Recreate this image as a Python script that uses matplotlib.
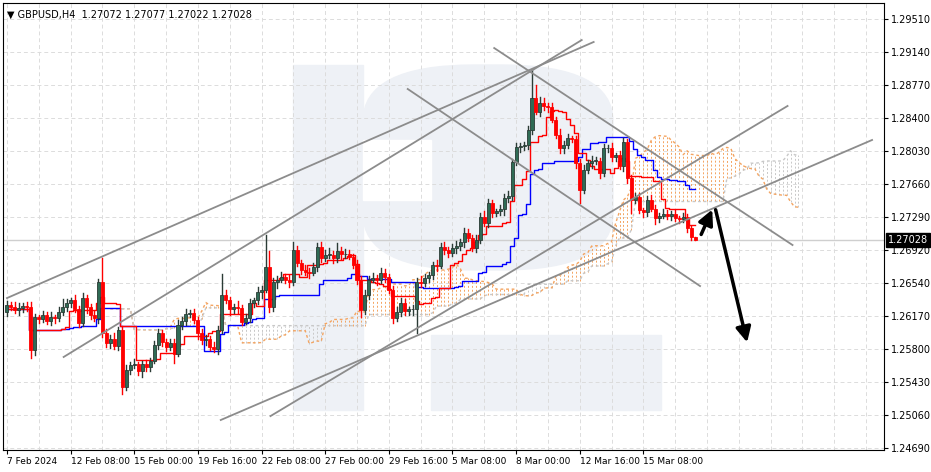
import numpy as np
import pandas as pd
import matplotlib
matplotlib.use("Agg")
import matplotlib.pyplot as plt
from matplotlib.patches import Rectangle, FancyBboxPatch

# closes in pips above 1.2000
closes_p = [630, 628, 624, 626, 629, 628, 579, 616, 614, 618,
            612, 616, 615, 622, 628, 632, 635, 625, 610, 638,
            627, 618, 615, 655, 598, 587, 592, 584, 602, 538,
            557, 562, 563, 555, 563, 560, 567, 585, 598, 588,
            583, 587, 575, 607, 612, 620, 621, 613, 598, 590,
            592, 583, 580, 602, 641, 635, 625, 628, 626, 611,
            615, 632, 635, 644, 647, 672, 627, 655, 658, 661,
            658, 655, 692, 677, 669, 667, 666, 672, 695, 683,
            686, 686, 682, 690, 687, 687, 684, 675, 658, 624,
            641, 658, 660, 658, 666, 661, 647, 615, 622, 632,
            623, 625, 625, 656, 654, 660, 663, 675, 674, 695,
            692, 688, 694, 696, 700, 711, 705, 694, 703, 729,
            722, 744, 733, 735, 737, 750, 752, 790, 807, 808,
            810, 826, 862, 847, 857, 853, 852, 838, 821, 806,
            810, 817, 816, 789, 759, 781, 789, 792, 792, 778,
            806, 806, 796, 798, 786, 813, 772, 748, 751, 736,
            734, 748, 738, 727, 730, 732, 730, 732, 727, 726,
            729, 716, 706, 702.8]
upper_wick = [4, 3, 5, 6, 3, 4, 5, 4, 3, 5,
              4, 6, 3, 5, 8, 4, 3, 6, 4, 5,
              3, 4, 5, 4, 28, 5, 4, 6, 3, 4,
              5, 4, 6, 3, 4, 5, 3, 4, 5, 4,
              3, 5, 4, 6, 4, 5, 3, 4, 3, 5,
              4, 3, 5, 4, 24, 5, 4, 3, 6, 4,
              5, 4, 3, 6, 4, 36, 18, 5, 4, 6,
              4, 5, 8, 4, 3, 6, 4, 5, 4, 6,
              5, 8, 4, 9, 5, 6, 4, 3, 5, 4,
              5, 4, 6, 3, 5, 4, 3, 4, 5, 6,
              4, 3, 5, 4, 6, 5, 4, 3, 5, 4,
              5, 3, 4, 6, 4, 5, 4, 3, 5, 4,
              6, 5, 4, 3, 5, 4, 6, 4, 5, 4,
              3, 5, 32, 15, 6, 5, 4, 5, 3, 6,
              4, 5, 3, 4, 5, 6, 4, 5, 4, 3,
              5, 4, 6, 3, 5, 4, 3, 4, 5, 4,
              3, 4, 5, 4, 3, 5, 4, 3, 4, 3,
              4, 3, 2, 0.5]
lower_wick = [5, 4, 3, 6, 4, 5, 9, 5, 4, 3,
              4, 5, 6, 3, 4, 5, 4, 3, 5, 4,
              6, 4, 3, 5, 4, 5, 6, 4, 5, 8,
              4, 5, 3, 4, 6, 5, 4, 3, 5, 4,
              5, 4, 10, 3, 4, 5, 4, 3, 6, 4,
              5, 4, 3, 5, 4, 3, 6, 4, 5, 4,
              3, 4, 5, 4, 6, 3, 5, 4, 6, 3,
              4, 5, 3, 4, 5, 4, 6, 3, 4, 5,
              4, 3, 5, 4, 6, 5, 3, 4, 5, 8,
              4, 5, 3, 6, 4, 5, 4, 6, 3, 5,
              4, 5, 6, 27, 4, 3, 5, 4, 6, 3,
              5, 4, 3, 6, 4, 5, 3, 4, 5, 4,
              3, 5, 4, 3, 4, 6, 5, 4, 3, 5,
              4, 5, 4, 3, 5, 4, 6, 3, 4, 5,
              6, 4, 3, 5, 15, 4, 3, 5, 4, 6,
              3, 4, 5, 4, 3, 6, 5, 15, 4, 3,
              5, 4, 3, 6, 4, 3, 4, 5, 3, 4,
              3, 4, 3, 0.6]

y_ticks = [1.24690, 1.25060, 1.25430, 1.25800, 1.26170, 1.26540, 1.26920,
           1.27290, 1.27660, 1.28030, 1.28400, 1.28770, 1.29140, 1.29510]
x_tick_bars = [0, 16, 32, 48, 64, 80, 96, 112, 128, 144, 160]
x_tick_labels = ["7 Feb 2024", "12 Feb 08:00", "15 Feb 00:00", "19 Feb 16:00",
                 "22 Feb 08:00", "27 Feb 00:00", "29 Feb 16:00", "5 Mar 08:00",
                 "8 Mar 00:00", "12 Mar 16:00", "15 Mar 08:00"]
last_price = 1.27028
header = "\u25bc GBPUSD,H4  1.27072 1.27077 1.27022 1.27028"

# trend lines: (bar0, price0, bar1, price1)
trend_lines = [(0, 1.26375, 147.5, 1.29252),
               (14.25, 1.25713, 144.5, 1.29274),
               (53.75, 1.25005, 217.5, 1.28151),
               (66.25, 1.25049, 196.25, 1.28533),
               (100.75, 1.28724, 174.25, 1.26510),
               (122.5, 1.29184, 197.5, 1.26971)]
arrows = [(174.25, 1.27061, 177.6, 1.27398),
          (178.0, 1.27398, 186.25, 1.25847)]

close = 1.2 + np.array(closes_p) / 1e4
opn = np.r_[close[0] - 0.0008, close[:-1]]
high = np.maximum(opn, close) + np.array(upper_wick) / 1e4
low = np.minimum(opn, close) - np.array(lower_wick) / 1e4
n = len(close)
idx = np.arange(n)

# ichimoku
hs, ls = pd.Series(high), pd.Series(low)
tenkan = (hs.rolling(9, min_periods=1).max() + ls.rolling(9, min_periods=1).min()) / 2
kijun = (hs.rolling(26, min_periods=1).max() + ls.rolling(26, min_periods=1).min()) / 2
span_a = ((tenkan + kijun) / 2).values
span_b = ((hs.rolling(52, min_periods=1).max() + ls.rolling(52, min_periods=1).min()) / 2).values
cloud_x = idx + 26

fig = plt.figure(figsize=(9.31, 4.72), dpi=100)
W, H = 931, 472
ax = fig.add_axes([3 / W, 22 / H, 881 / W, 447 / H])
ax.set_xlim(-1, 220.5)
ax.set_ylim(1.24668, 1.29690)

# watermark (logo behind the chart)
wm = "#eef1f6"
def wm_box(x, y, w, h, color=wm, style="square,pad=0"):
    p = FancyBboxPatch((x / W, (H - y - h) / H), w / W, h / H, boxstyle=style,
                       transform=fig.transFigure, color=color, zorder=0.2)
    ax.add_patch(p)

wm_box(293, 65, 70, 345)
wm_box(363, 65, 250, 205, style="round,pad=0,rounding_size=0.12")
wm_box(431, 335, 230, 75)
wm_box(363, 140, 68, 60, color="white")

for t in y_ticks:
    ax.axhline(t, color="#dcdcdc", lw=0.7, ls=(0, (4, 3)), zorder=1)
for b in range(0, 224, 8):
    ax.axvline(b, color="#dcdcdc", lw=0.7, ls=(0, (4, 3)), zorder=1)
ax.axhline(last_price, color="#cfcfcf", lw=1, zorder=1)

# cloud
for x, a, b in zip(cloud_x, span_a, span_b):
    col = "#f4a460" if a >= b else "#c8c8c8"
    ax.plot([x, x], [min(a, b), max(a, b)], color=col, lw=0.7, ls=(0, (2, 2)), zorder=2)
ax.plot(cloud_x, span_a, color="#f4a460", lw=1, ls=(0, (2, 2)), zorder=2)
ax.plot(cloud_x, span_b, color="#c8c8c8", lw=1, ls=(0, (2, 2)), zorder=2)
ax.plot(idx, kijun, color="#0000ff", lw=1, drawstyle="steps-mid", zorder=3)
ax.plot(idx, tenkan, color="#ff0000", lw=1, drawstyle="steps-mid", zorder=3)

# candles
for i in idx:
    up = close[i] >= opn[i]
    col = "#2f6b55" if up else "#ff0000"
    edge = "#2b3b35" if up else "#ff0000"
    ax.plot([i, i], [low[i], high[i]], color=edge, lw=1, zorder=4)
    lo, hi = min(opn[i], close[i]), max(opn[i], close[i])
    ax.add_patch(Rectangle((i - 0.38, lo), 0.76, max(hi - lo, 0.00005),
                           facecolor=col, edgecolor=edge, lw=0.6, zorder=5))

for x0, y0, x1, y1 in trend_lines:
    ax.plot([x0, x1], [y0, y1], color="#8c8c8c", lw=1.3, zorder=6)
for x0, y0, x1, y1 in arrows:
    ax.annotate("", xy=(x1, y1), xytext=(x0, y0),
                arrowprops=dict(arrowstyle="-|>,head_length=0.9,head_width=0.45",
                                color="black", lw=2.5), zorder=7)

ax.yaxis.tick_right()
ax.set_yticks(y_ticks)
ax.set_yticklabels([f"{t:.5f}" for t in y_ticks], fontsize=7)
ax.set_xticks(x_tick_bars)
ax.set_xticklabels(x_tick_labels, fontsize=6.5, ha="left")
ax.tick_params(length=3, pad=2, colors="black")
for s in ax.spines.values():
    s.set_color("black")

ax.text(1.004, last_price, f"{last_price:.5f}", transform=ax.get_yaxis_transform(),
        fontsize=7, color="white", va="center", ha="left",
        bbox=dict(boxstyle="square,pad=0.2", fc="black", ec="black"), zorder=8)
ax.text(0.004, 0.985, header, transform=ax.transAxes, fontsize=7, va="top", ha="left")

fig.savefig("out.png", dpi=100)
